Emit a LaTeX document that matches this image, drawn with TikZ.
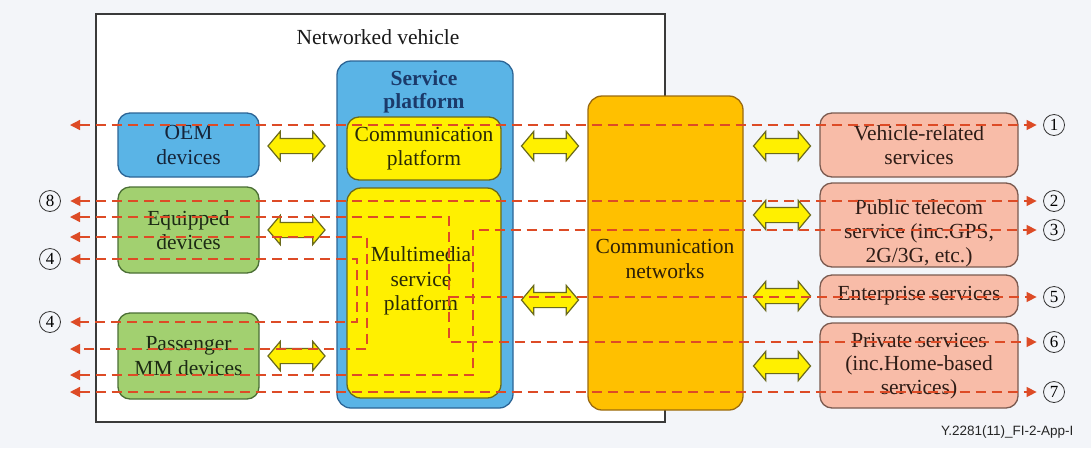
\documentclass[tikz,border=0pt]{standalone}
\usepackage{fontspec}
\setmainfont{Liberation Serif}
\newfontfamily\capfont{Liberation Sans}
\usetikzlibrary{shapes.arrows,arrows.meta}
\definecolor{bgc}{HTML}{F3F5F9}
\definecolor{framec}{HTML}{3A3A3A}
\definecolor{bluef}{HTML}{5AB4E6}
\definecolor{bluel}{HTML}{2C6596}
\definecolor{yelf}{HTML}{FFF000}
\definecolor{yell}{HTML}{6A6A1C}
\definecolor{grnf}{HTML}{A2D070}
\definecolor{grnl}{HTML}{4B6F35}
\definecolor{orf}{HTML}{FFC000}
\definecolor{orl}{HTML}{9A6A10}
\definecolor{salf}{HTML}{F8BCA8}
\definecolor{sall}{HTML}{7A5A50}
\definecolor{sigc}{HTML}{DD4B26}
\definecolor{navyt}{HTML}{1B3A6A}
\definecolor{txtblue}{HTML}{15253A}
\definecolor{txtgreen}{HTML}{1C2A14}
\definecolor{txtyel}{HTML}{2A2A08}
\definecolor{txtor}{HTML}{2E2008}
\definecolor{txtsal}{HTML}{2E1C16}
\tikzset{
  box/.style={draw, line width=1.3pt, rounded corners=12pt, align=center,
    inner sep=0pt, font=\fontsize{21.5}{24.5}\selectfont},
  oembox/.style={box, fill=bluef, draw=bluel, text=txtblue},
  grnbox/.style={box, fill=grnf, draw=grnl, text=txtgreen},
  yelbox/.style={box, fill=yelf, draw=yell, text=txtyel},
  netbox/.style={box, fill=orf, draw=orl, text=txtor},
  svcbox/.style={box, fill=salf, draw=sall, text=txtsal},
  blockarrow/.style={double arrow, draw=yell, line width=1.2pt, fill=yelf,
    minimum height=57pt, minimum width=28pt, inner sep=7pt,
    double arrow head extend=7pt, double arrow tip angle=100},
  sig/.style={draw=sigc, line width=1.4pt, dash pattern=on 10pt off 6pt},
  tipr/.style={-{Triangle[length=10pt,width=10pt,fill=sigc,color=sigc]}},
  tipb/.style={{Triangle[length=10pt,width=10pt,fill=sigc,color=sigc]}-{Triangle[length=10pt,width=10pt,fill=sigc,color=sigc]}},
  num/.style={circle, draw=black!80, line width=0.8pt, minimum size=21pt,
    inner sep=0pt, font=\fontsize{17}{17}\selectfont},
}
\begin{document}
\begin{tikzpicture}[x=1pt,y=-1pt]
% canvas
\fill[bgc] (0,0) rectangle (1091,448);
\useasboundingbox (0,0) rectangle (1091,448);

% vehicle frame
\draw[framec, line width=1.2pt, fill=white] (96,14) rectangle (665,422);
\node[font=\fontsize{21.5}{24.5}\selectfont, text=black!90] (veh) at (378,37) {Networked vehicle};

% in-vehicle devices
\node[oembox, minimum width=141pt, minimum height=64pt] (oem) at (188.5,145) {OEM\\devices};
\node[grnbox, minimum width=141pt, minimum height=86pt] (equip) at (188.5,230) {Equipped\\devices};
\node[grnbox, minimum width=141pt, minimum height=86pt] (pass) at (188.5,356) {Passenger\\MM devices};

% service platform
\node[box, fill=bluef, draw=bluel, rounded corners=14pt, minimum width=176pt, minimum height=347pt] (sp) at (425,234.5) {};
\node[font=\fontsize{21.5}{23}\selectfont\bfseries, text=navyt, align=center] (sptitle) at (424,92) {Service\\platform};
\node[yelbox, minimum width=154pt, minimum height=63pt] (cp) at (424,148.5) {Communication\\platform};
\node[yelbox, rounded corners=14pt, minimum width=154pt, minimum height=210pt] (mm) at (424,293) {};
\node[align=center, font=\fontsize{21.5}{24.5}\selectfont, text=txtyel] (mmtext) at (421,281) {Multimedia\\service\\platform};

% networks
\node[netbox, rounded corners=14pt, minimum width=155pt, minimum height=314pt] (net) at (665.5,253) {};
\node[align=center, font=\fontsize{21.5}{24.5}\selectfont, text=txtor] (nettext) at (665,259) {Communication\\networks};

% external services
\node[svcbox, minimum width=198pt, minimum height=64pt] (veh-s) at (919,145) {Vehicle-related\\services};
\node[svcbox, minimum width=198pt, minimum height=84pt] (pub) at (919,225) {};
\node[align=center, font=\fontsize{21.5}{24}\selectfont, text=txtsal] (pubtext) at (919,233) {Public telecom\\service (inc.GPS,\\2G/3G, etc.)};
\node[svcbox, minimum width=198pt, minimum height=42pt] (ent) at (919,296) {Enterprise services};
\node[svcbox, minimum width=198pt, minimum height=85pt] (priv) at (919,365.5) {};
\node[align=center, font=\fontsize{21.5}{23.5}\selectfont, text=txtsal] (privtext) at (919,366) {Private services\\(inc.Home-based\\services)};

% block arrows between the layers
\node[blockarrow] (a1) at (296.5,146) {};
\node[blockarrow] (a2) at (296.5,230) {};
\node[blockarrow] (a3) at (296.5,356) {};
\node[blockarrow] (a4) at (550,146) {};
\node[blockarrow] (a5) at (550,300) {};
\node[blockarrow] (a6) at (782,146) {};
\node[blockarrow] (a7) at (782,215) {};
\node[blockarrow] (a8) at (782,296) {};
\node[blockarrow] (a9) at (782,366) {};

% circled flow numbers
\node[num] (n8) at (50,201) {8};
\node[num] (n4a) at (50,259) {4};
\node[num] (n4b) at (50,322) {4};
\node[num] (n1) at (1054,125) {1};
\node[num] (n2) at (1054,201) {2};
\node[num] (n3) at (1054,230) {3};
\node[num] (n5) at (1054,297) {5};
\node[num] (n6) at (1054,342) {6};
\node[num] (n7) at (1054,392) {7};

% free ends of the flows
\coordinate (l1) at (70,125);
\coordinate (l217) at (70,217);
\coordinate (l237) at (70,237);
\coordinate (l349) at (70,349);
\coordinate (l375) at (70,375);
\coordinate (l392) at (70,392);
\coordinate (k449) at (449,297);

% flows
\draw[sig, tipb, shorten >=6.5pt] (l1) -- (n1.west |- l1);
\draw[sig, tipb, shorten <=9.5pt, shorten >=6.5pt] (n8.east) -- (n2.west);
\draw[sig, tipb, shorten >=6.5pt] (l217) -- (449,217) -- (449,342) -- (n6.west);
\draw[sig, tipr, shorten >=6.5pt] (k449) -- (n5.west);
\draw[sig, tipb] (l237) -- (367,237) -- (367,349) -- (l349);
\draw[sig, tipb, shorten <=9.5pt, shorten >=9.5pt] (n4a.east) -- (357,259) -- (357,322) -- (n4b.east);
\draw[sig, tipb, shorten >=6.5pt] (l375) -- (473,375) -- (473,230) -- (n3.west);
\draw[sig, tipb, shorten >=6.5pt] (l392) -- (n7.west);

% figure reference
\node[font=\capfont\fontsize{13.5}{14}\selectfont, text=black!85, anchor=east] (ref) at (1077,432) {Y.2281(11)\_FI-2-App-I};
\end{tikzpicture}
\end{document}
